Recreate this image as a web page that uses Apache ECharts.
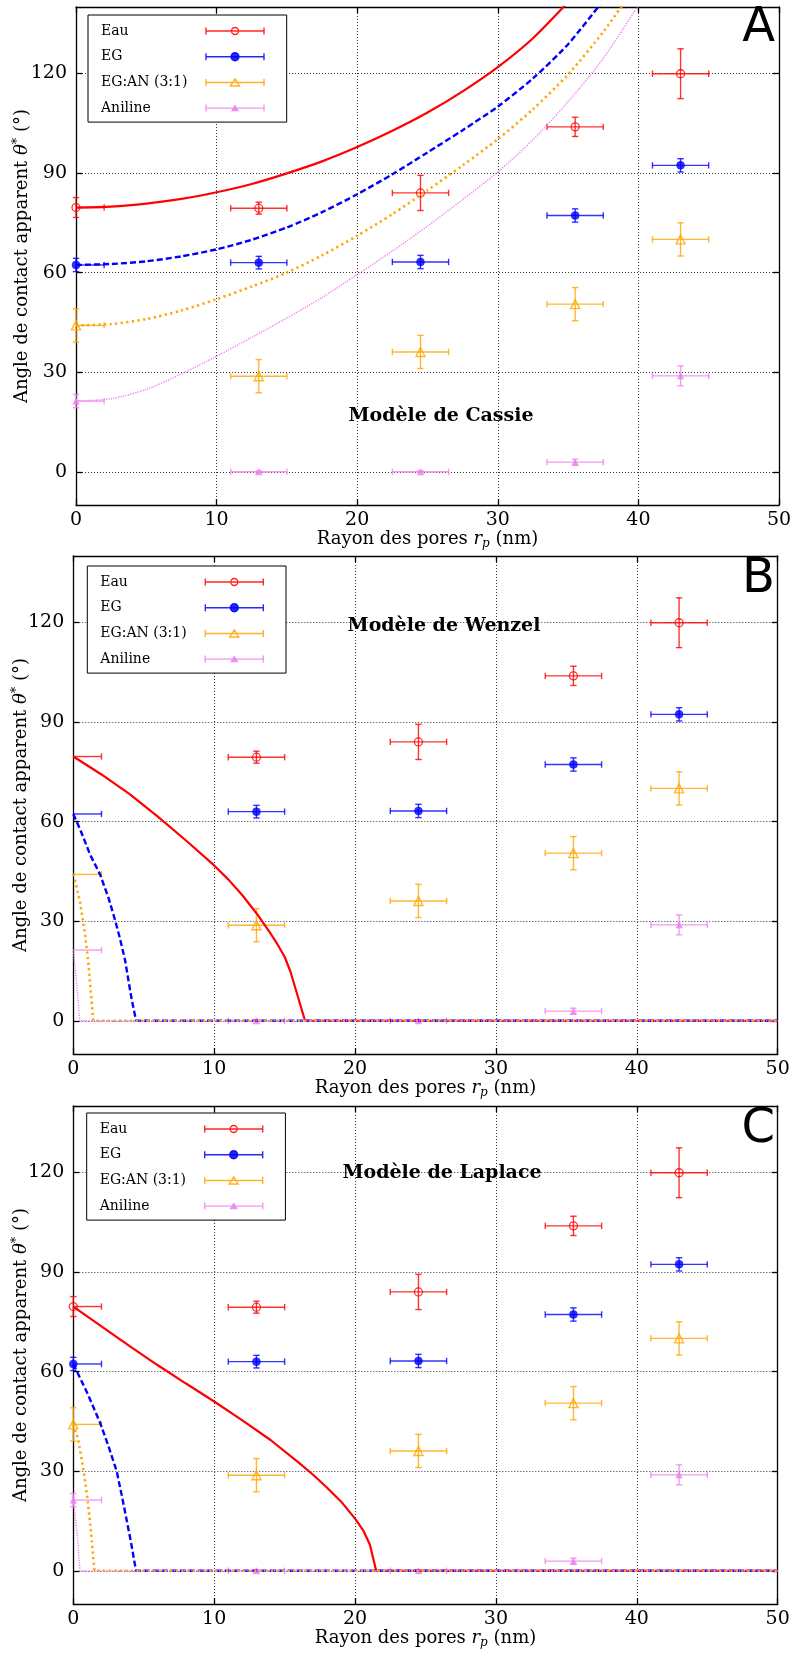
<!DOCTYPE html>
<html>
<head>
<meta charset="utf-8">
<script src="https://cdn.jsdelivr.net/npm/echarts@6/dist/echarts.min.js"></script>
<style>html,body{margin:0;padding:0;background:#fff}#c{width:795px;height:1654px}</style>
</head>
<body>
<div id="c"></div>
<script>
// ---------------- DATA ----------------
const liquids = ['Eau', 'EG', 'EG:AN (3:1)', 'Aniline'];
const panelTitles = ['Modèle de Cassie', 'Modèle de Wenzel', 'Modèle de Laplace'];
const panelLetters = ['A', 'B', 'C'];
const xTicks = [0, 10, 20, 30, 40, 50];
const yTicks = [0, 30, 60, 90, 120];

// measured points (pore radius, nm) with error bars
const poreRadius    = [0, 13, 24.5, 35.5, 43];
const poreRadiusErr = [2, 2, 2, 2, 2];
const thetaEau        = [79.6, 79.4, 84.0, 103.9, 119.9];
const thetaEauErr     = [3.0, 1.8, 5.3, 2.9, 7.5];
const thetaEg         = [62.3, 63.0, 63.2, 77.2, 92.3];
const thetaEgErr      = [2.0, 1.9, 2.0, 2.0, 2.0];
const thetaEgan       = [44.1, 28.8, 36.1, 50.5, 70.0];
const thetaEganErr    = [5.0, 5.0, 5.0, 5.0, 5.0];
const thetaAniline    = [21.3, 0.0, 0.0, 2.9, 28.9];
const thetaAnilineErr = [2.0, 0.3, 0.3, 0.9, 3.0];

// Cassie model curves (panel A)
const cassieRadius  = [0, 2.5, 5, 7.5, 10, 12.5, 15, 17.5, 20, 22.5, 25, 27.5, 30, 32.5, 35, 37.5, 40];
const cassieEau     = [79.6, 79.9, 80.8, 82.2, 84.2, 86.7, 89.9, 93.5, 97.8, 102.7, 108.2, 114.6, 121.9, 130.6, 141.5, null, null];
const cassieEg      = [62.3, 62.6, 63.4, 64.9, 67.0, 69.9, 73.6, 78.2, 83.6, 89.6, 96.2, 102.9, 110.0, 118.5, 128.8, 142.0, null];
const cassieEgan    = [44.1, 44.5, 46.0, 48.6, 52.0, 55.8, 60.0, 65.2, 71.1, 77.6, 84.8, 92.3, 100.2, 109.2, 119.7, 132.5, 147.5];
const cassieAniline = [21.3, 22.0, 24.8, 29.5, 34.8, 40.5, 46.3, 52.5, 59.4, 66.5, 74.0, 82.0, 90.3, 100.0, 111.5, 124.5, 140.5];

// Wenzel model curves (panel B)
const wenzelEauRadius     = [0, 2, 4, 6, 8, 10, 11, 12, 13, 14, 14.5, 15, 15.4, 16.45, 50];
const wenzelEau           = [79.6, 74.2, 68.3, 61.5, 54.3, 46.8, 42.6, 37.8, 32.4, 26.3, 23.0, 19.3, 15.0, 0, 0];
const wenzelEgRadius      = [0, 0.5, 1.2, 1.9, 2.5, 2.96, 3.3, 3.67, 4.0, 4.15, 4.46, 50];
const wenzelEg            = [62.3, 57.5, 50.0, 44.1, 37.0, 30.4, 25.0, 18.4, 10.0, 6.3, 0, 0];
const wenzelEganRadius    = [0, 0.12, 0.5, 0.83, 1.07, 1.42, 50];
const wenzelEgan          = [44.1, 42.4, 35.3, 26.0, 17.4, 0, 0];
const wenzelAnilineRadius = [0, 0.25, 0.45, 50];
const wenzelAniline       = [21.3, 11.0, 0, 0];

// Laplace model curves (panel C)
const laplaceEauRadius     = [0, 2, 4, 6, 8, 10, 12, 14, 16, 17, 18, 19, 20, 20.6, 21.05, 21.5, 50];
const laplaceEau           = [79.6, 73.6, 67.7, 61.9, 56.4, 51.0, 45.3, 39.4, 32.6, 29.0, 25.1, 20.9, 15.7, 12.0, 7.9, 0, 0];
const laplaceEgRadius      = [0, 1, 1.9, 2.5, 3.08, 3.5, 3.8, 4.1, 4.45, 50];
const laplaceEg            = [62.3, 53.5, 44.6, 37.5, 30.0, 21.5, 15.0, 8.5, 0, 0];
const laplaceEganRadius    = [0, 0.35, 0.7, 1.0, 1.25, 1.5, 50];
const laplaceEgan          = [44.1, 39.5, 31.0, 22.0, 12.0, 0, 0];
const laplaceAnilineRadius = [0, 0.28, 0.47, 50];
const laplaceAniline       = [21.3, 11.0, 0, 0];

// ---------------- BUILD ----------------
const zip = (xs, ys) => xs.map((x, i) => [x, ys[i]]);
const pointSets = [
  [thetaEau, thetaEauErr], [thetaEg, thetaEgErr], [thetaEgan, thetaEganErr], [thetaAniline, thetaAnilineErr]
];
const curveSets = [
  [zip(cassieRadius, cassieEau), zip(cassieRadius, cassieEg), zip(cassieRadius, cassieEgan), zip(cassieRadius, cassieAniline)],
  [zip(wenzelEauRadius, wenzelEau), zip(wenzelEgRadius, wenzelEg), zip(wenzelEganRadius, wenzelEgan), zip(wenzelAnilineRadius, wenzelAniline)],
  [zip(laplaceEauRadius, laplaceEau), zip(laplaceEgRadius, laplaceEg), zip(laplaceEganRadius, laplaceEgan), zip(laplaceAnilineRadius, laplaceAniline)]
];

const colors = ['#ff0000', '#0000ff', '#ffa500', '#ee82ee'];
const lineStyles = [
  {color: '#ff0000', width: 2.2, type: 'solid'},
  {color: '#0000ff', width: 2.4, type: [6, 3]},
  {color: '#ffa500', width: 2.6, type: [2.2, 3.4]},
  {color: '#ee82ee', width: 1.5, type: [1.2, 1.3]}
];
const markerSymbols = ['circle', 'circle', 'triangle', 'triangle'];
const markerSizes = [8, 8, 9, 6.5];
const markerStyles = [
  {color: 'rgba(255,0,0,0)', borderColor: '#ff0000', borderWidth: 1.3},
  {color: '#0000ff', borderColor: '#0000ff', borderWidth: 0.5},
  {color: 'rgba(255,165,0,0)', borderColor: '#ffa500', borderWidth: 1.4},
  {color: '#ee82ee', borderColor: '#ee82ee', borderWidth: 0.5}
];
const legendIcons = [
  'path://M0,0.5L0,7.5M58,0.5L58,7.5M0,4L58,4M32.5,4A3.5,3.5,0,1,1,25.5,4A3.5,3.5,0,1,1,32.5,4Z',
  'path://M0,0.5L0,7.5M58,0.5L58,7.5M0,4L58,4M33,4A4,4,0,1,1,25,4A4,4,0,1,1,33,4Z',
  'path://M0,0.5L0,7.5M58,0.5L58,7.5M0,4L58,4M29,0.3L33.5,7.5L24.5,7.5Z',
  'path://M0,0.5L0,7.5M58,0.5L58,7.5M0,4L58,4M29,1.5L32,6.5L26,6.5Z'
];
const legendFills = ['rgba(0,0,0,0)', '#0000ff', 'rgba(0,0,0,0)', '#ee82ee'];

const panels = [
  {left: 76,   top: 7,    width: 703,   height: 498, yNameGap: 43, markerMinX: 0,
   legendLeft: 88,   legendTop: 15,   titleX: 441, titleY: 416,  letterY: 29},
  {left: 73.3, top: 556,  width: 704.4, height: 498, yNameGap: 41, markerMinX: 0.01,
   legendLeft: 87.3, legendTop: 566,  titleX: 444, titleY: 626,  letterY: 580},
  {left: 73.3, top: 1106, width: 704.4, height: 498, yNameGap: 41, markerMinX: 0,
   legendLeft: 86.7, legendTop: 1113, titleX: 442, titleY: 1173, letterY: 1130}
];

const serif = 'DejaVu Serif';
const tickFont = {fontFamily: serif, fontSize: 19, color: '#000'};
const axisLineStyle = {color: '#000', width: 1.3};
const gridLineStyle = {color: '#333', width: 1, type: [1, 2]};

function errorRender(color, markerMinX) {
  return function (params, api) {
    const x = api.value(0), y = api.value(1), xe = api.value(2), ye = api.value(3);
    const cs = params.coordSys;
    const left = cs.x, right = cs.x + cs.width;
    const c = api.coord([x, y]);
    const pl = api.coord([x - xe, y]);
    const pr = api.coord([x + xe, y]);
    const pt = api.coord([x, y + ye]);
    const pb = api.coord([x, y - ye]);
    const cap = 3.2;
    const style = {stroke: color, lineWidth: 1.4, opacity: 0.8};
    const ch = [];
    const hx0 = Math.max(pl[0], left), hx1 = Math.min(pr[0], right);
    ch.push({type: 'line', shape: {x1: hx0, y1: c[1], x2: hx1, y2: c[1]}, style});
    if (pl[0] >= left - 0.5) ch.push({type: 'line', shape: {x1: pl[0], y1: c[1] - cap, x2: pl[0], y2: c[1] + cap}, style});
    if (pr[0] <= right + 0.5) ch.push({type: 'line', shape: {x1: pr[0], y1: c[1] - cap, x2: pr[0], y2: c[1] + cap}, style});
    if (x >= markerMinX) {
      ch.push({type: 'line', shape: {x1: c[0], y1: pt[1], x2: c[0], y2: pb[1]}, style});
      ch.push({type: 'line', shape: {x1: c[0] - cap, y1: pt[1], x2: c[0] + cap, y2: pt[1]}, style});
      ch.push({type: 'line', shape: {x1: c[0] - cap, y1: pb[1], x2: c[0] + cap, y2: pb[1]}, style});
    }
    return {type: 'group', children: ch};
  };
}

const nameRich = {
  n: {fontFamily: serif, fontSize: 18, lineHeight: 22, color: '#000'},
  i: {fontFamily: serif, fontSize: 18, lineHeight: 22, fontStyle: 'italic', color: '#000'},
  s: {fontFamily: serif, fontSize: 12, lineHeight: 12, fontStyle: 'italic', verticalAlign: 'bottom', color: '#000'},
  u: {fontFamily: serif, fontSize: 13, lineHeight: 13, verticalAlign: 'top', color: '#000'}
};

const grid = [], xAxis = [], yAxis = [], series = [], legend = [], graphic = [];

panels.forEach((p, pi) => {
  grid.push({left: p.left, top: p.top, width: p.width, height: p.height, containLabel: false, outerBoundsMode: 'none'});
  xAxis.push({
    type: 'value', gridIndex: pi, min: 0, max: 50, interval: 10, position: 'bottom',
    axisLine: {show: true, onZero: false, lineStyle: axisLineStyle},
    axisTick: {show: true, inside: true, length: 6, lineStyle: axisLineStyle},
    axisLabel: Object.assign({show: true, margin: 6}, tickFont),
    splitLine: {show: true, lineStyle: gridLineStyle},
    name: '{n|Rayon des pores }{i|r}{s|p}{n| (nm)}', nameLocation: 'middle', nameGap: 23,
    nameMoveOverlap: false, nameTextStyle: {rich: nameRich}
  });
  xAxis.push({
    type: 'value', gridIndex: pi, min: 0, max: 50, interval: 10, position: 'top',
    axisLine: {show: true, onZero: false, lineStyle: axisLineStyle},
    axisTick: {show: true, inside: true, length: 6, lineStyle: axisLineStyle},
    axisLabel: {show: false}, splitLine: {show: false}
  });
  yAxis.push({
    type: 'value', gridIndex: pi, min: -10, max: 140, position: 'left',
    axisLine: {show: true, onZero: false, lineStyle: axisLineStyle},
    axisTick: {show: true, inside: true, length: 6, lineStyle: axisLineStyle, customValues: yTicks},
    axisLabel: Object.assign({show: true, margin: 9, customValues: yTicks}, tickFont),
    splitLine: {show: true, lineStyle: gridLineStyle},
    name: '{n|Angle de contact apparent }{i|θ}{u|*}{n| (°)}', nameLocation: 'middle', nameGap: p.yNameGap,
    nameMoveOverlap: false, nameTextStyle: {rich: nameRich}
  });
  yAxis.push({
    type: 'value', gridIndex: pi, min: -10, max: 140, position: 'right',
    axisLine: {show: true, onZero: false, lineStyle: axisLineStyle},
    axisTick: {show: true, inside: true, length: 6, lineStyle: axisLineStyle, customValues: yTicks},
    axisLabel: {show: false, customValues: yTicks}, splitLine: {show: false}
  });

  liquids.forEach((name, k) => {
    const [vals, errs] = pointSets[k];
    const rows = poreRadius.map((r, i) => [r, vals[i], poreRadiusErr[i], errs[i]]);
    series.push({
      type: 'custom', name, xAxisIndex: 2 * pi, yAxisIndex: 2 * pi, clip: false, silent: true, z: 2,
      dimensions: ['x', 'y', 'xe', 'ye'], encode: {x: 0, y: 1},
      renderItem: errorRender(colors[k], p.markerMinX), data: rows
    });
    series.push({
      type: 'scatter', name, xAxisIndex: 2 * pi, yAxisIndex: 2 * pi, clip: false, silent: true, z: 3,
      symbol: markerSymbols[k], symbolSize: markerSizes[k], itemStyle: markerStyles[k],
      data: rows.filter(r => r[0] >= p.markerMinX).map(r => [r[0], r[1]])
    });
    series.push({
      type: 'line', name, xAxisIndex: 2 * pi, yAxisIndex: 2 * pi, clip: true, silent: true, z: 4,
      showSymbol: false, symbol: 'none', smooth: pi === 0 ? 0.25 : false,
      lineStyle: lineStyles[k], itemStyle: {color: colors[k]},
      data: curveSets[pi][k]
    });
  });

  legend.push({
    show: true, orient: 'vertical', align: 'right', selectedMode: false,
    left: p.legendLeft, top: p.legendTop, padding: [9, 22, 7, 13],
    itemWidth: 58, itemHeight: 8, itemGap: 11.7,
    backgroundColor: '#fff', borderColor: '#000', borderWidth: 1, borderRadius: 0,
    formatter: n => '{t|' + n + '}',
    textStyle: {rich: {t: {width: 100, align: 'left', fontFamily: serif, fontSize: 14, lineHeight: 14, color: '#000'}}},
    data: liquids.map((name, k) => ({
      name, icon: legendIcons[k],
      itemStyle: {color: legendFills[k], borderColor: colors[k], borderWidth: 1.4, opacity: 0.85}
    }))
  });

  graphic.push({
    type: 'text', x: p.titleX, y: p.titleY, z: 10, silent: true,
    style: {text: panelTitles[pi], fontFamily: serif, fontWeight: 'bold', fontSize: 19, fill: '#000', align: 'center', verticalAlign: 'middle'}
  });
  graphic.push({
    type: 'text', x: 775, y: p.letterY, z: 10, silent: true,
    style: {text: panelLetters[pi], fontFamily: 'DejaVu Sans', fontSize: 48, fill: '#000', align: 'right', verticalAlign: 'middle'}
  });
});

const chart = echarts.init(document.getElementById('c'), null, {renderer: 'canvas', width: 795, height: 1654});
chart.setOption({
  animation: false,
  backgroundColor: '#fff',
  grid, xAxis, yAxis, series, legend, graphic
});
</script>
</body>
</html>
